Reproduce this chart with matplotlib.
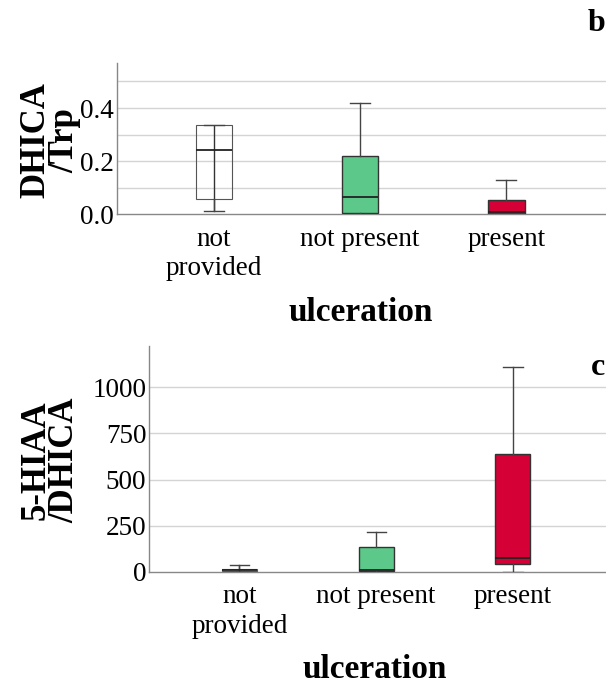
import matplotlib
matplotlib.use("Agg")
import matplotlib.pyplot as plt

categories = ["not\nprovided", "not present", "present"]
colors = ["none", "#5cc98a", "#d50035"]

# panel b: DHICA/Trp  (whislo, q1, med, q3, whishi)
b_whislo = [0.010, 0.000, 0.000]
b_q1 = [0.057, 0.006, 0.001]
b_med = [0.240, 0.063, 0.008]
b_q3 = [0.335, 0.218, 0.055]
b_whishi = [0.335, 0.420, 0.129]
b_yticks = [0.0, 0.2, 0.4]
b_grid = [0.1, 0.2, 0.3, 0.4, 0.5]

# panel c: 5-HIAA/DHICA
c_whislo = [0, 0, 0]
c_q1 = [3, 2, 40]
c_med = [8, 8, 77]
c_q3 = [17, 136, 639]
c_whishi = [35, 217, 1110]
c_yticks = [0, 250, 500, 750, 1000]

plt.rcParams['font.family'] = ['Liberation Serif', 'DejaVu Serif']

fig = plt.figure(figsize=(6.06, 6.84), dpi=100)
ax1 = fig.add_axes([0.193, 0.687, 0.807, 0.221])
ax2 = fig.add_axes([0.246, 0.164, 0.754, 0.330])

TICK_FS = 19.5


def draw(ax, wl, q1, med, q3, wh, width):
    stats = []
    for i in range(3):
        stats.append(dict(whislo=wl[i], q1=q1[i], med=med[i], q3=q3[i], whishi=wh[i], fliers=[]))
    bp = ax.bxp(stats, positions=range(3), widths=width, patch_artist=True,
                showfliers=False, capwidths=width * 0.55,
                boxprops=dict(edgecolor="#333333", linewidth=1.0),
                medianprops=dict(color="#222222", linewidth=1.3),
                whiskerprops=dict(color="#444444", linewidth=1.0),
                capprops=dict(color="#444444", linewidth=1.0), zorder=3)
    for patch, c in zip(bp['boxes'], colors):
        patch.set_facecolor(c)
        if c == "none":
            patch.set_edgecolor("#555555")
            patch.set_linewidth(0.8)
    # whisker line passing through the unfilled box
    ax.vlines([0], [wl[0]], [wh[0]], color="#333333", linewidth=1.0, zorder=2)
    ax.set_xticks(range(3))
    ax.set_xticklabels(categories, fontsize=TICK_FS, linespacing=1.25)
    ax.set_xlim(-0.66, 2.68)
    for s in ["top", "right"]:
        ax.spines[s].set_visible(False)
    for s in ["left", "bottom"]:
        ax.spines[s].set_color("#888888")
        ax.spines[s].set_linewidth(1.0)
    ax.tick_params(length=0, labelsize=TICK_FS)
    ax.tick_params(axis="x", pad=9)
    ax.tick_params(axis="y", pad=2)
    ax.set_axisbelow(True)


draw(ax1, b_whislo, b_q1, b_med, b_q3, b_whishi, 0.247)
ax1.set_ylim(0, 0.57)
ax1.set_yticks(b_yticks)
ax1.set_yticklabels(["0.0", "0.2", "0.4"])
for g in b_grid:
    ax1.axhline(g, color="#d4d4d4", linewidth=1.0, zorder=0)

draw(ax2, c_whislo, c_q1, c_med, c_q3, c_whishi, 0.256)
ax2.set_ylim(0, 1223)
ax2.set_yticks(c_yticks)
for g in c_yticks[1:]:
    ax2.axhline(g, color="#d4d4d4", linewidth=1.0, zorder=0)

fig.text(0.083, 0.795, "DHICA\n/Trp", rotation=90, ha="center", va="center",
         fontsize=25, fontweight="bold", linespacing=0.85)
fig.text(0.083, 0.327, "5-HIAA\n/DHICA", rotation=90, ha="center", va="center",
         fontsize=25, fontweight="bold", linespacing=0.85)
fig.text(0.596, 0.543, "ulceration", ha="center", va="center", fontsize=24, fontweight="bold")
fig.text(0.619, 0.021, "ulceration", ha="center", va="center", fontsize=24, fontweight="bold")
fig.text(0.985, 0.966, "b", ha="center", va="center", fontsize=23, fontweight="bold")
fig.text(0.987, 0.462, "c", ha="center", va="center", fontsize=23, fontweight="bold")

fig.savefig("out.png", dpi=100)
